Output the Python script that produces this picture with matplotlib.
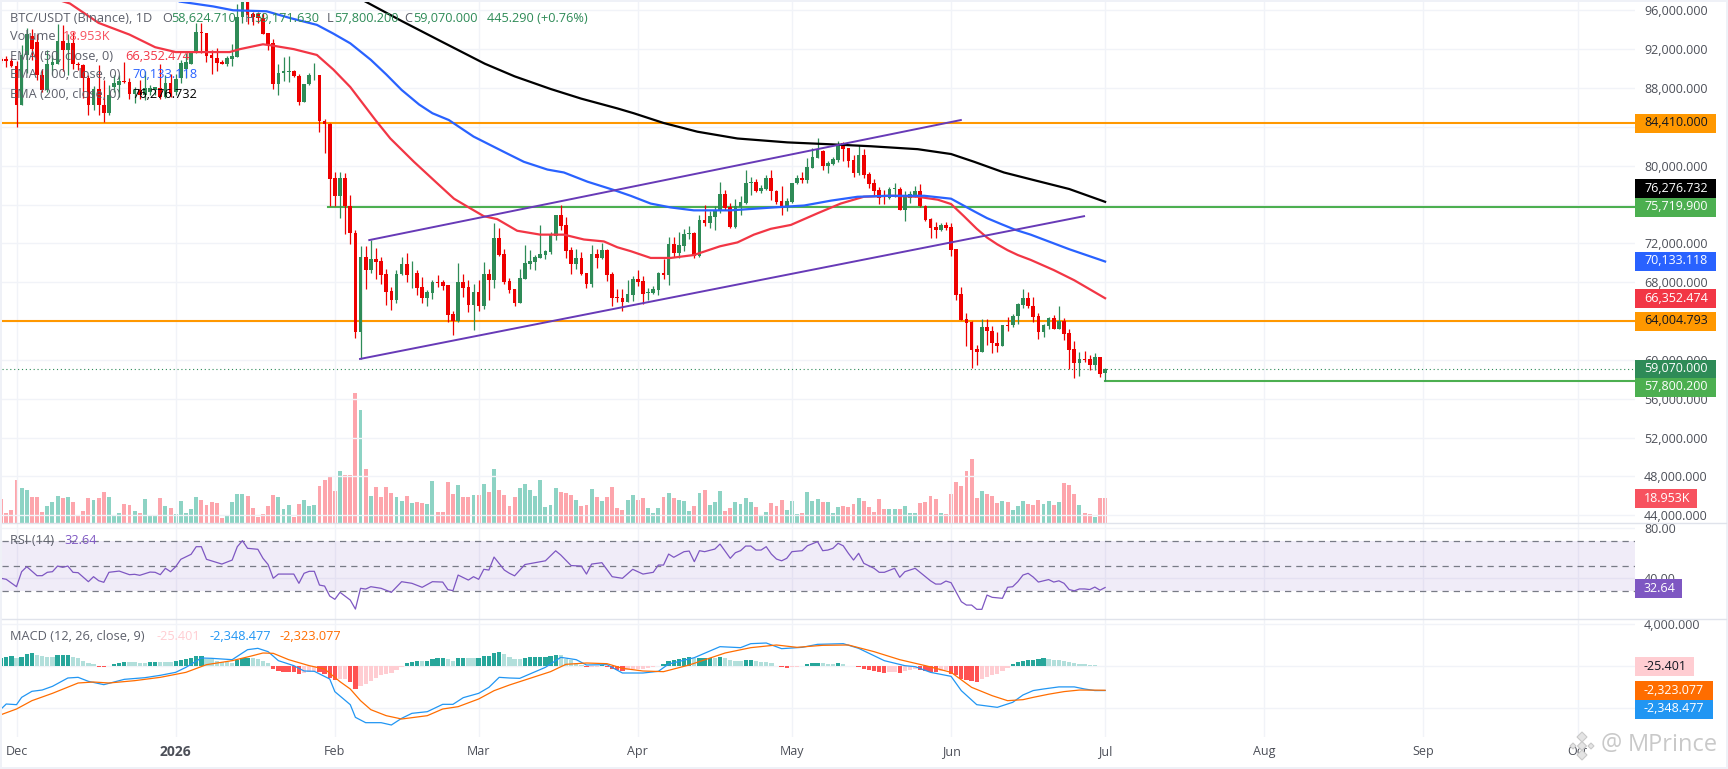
import numpy as np
import pandas as pd
import matplotlib
matplotlib.use("Agg")
import matplotlib.pyplot as plt
from matplotlib.patches import Rectangle, Polygon

W, H = 1728, 769
plt.rcParams['font.family'] = ['Open Sans', 'DejaVu Sans']

# ---------- data (prices in thousands of USDT, volume in thousands) ----------
base_date = pd.Timestamp('2025-12-01')
days = np.arange(-3, 213)

opens = [91.0,91.0,90.8,90.3,86.2,91.4,93.4,92.7,89.3,87.8,
90.4,90.5,92.8,91.9,92.6,90.5,90.4,89.0,86.3,87.9,
86.2,85.4,88.1,88.3,88.7,88.6,87.4,87.8,87.3,87.6,
87.8,88.0,87.1,88.5,87.6,89.0,90.0,90.5,91.6,93.8,
93.7,91.4,91.1,90.7,90.5,91.0,91.2,95.3,96.9,95.6,
95.6,95.2,93.7,92.6,88.4,89.5,89.6,89.7,89.2,86.6,
88.4,89.3,89.3,84.6,84.3,78.7,76.9,78.7,75.8,73.1,
62.9,70.6,69.3,70.4,70.2,68.8,67.1,66.2,68.8,69.9,
68.9,68.9,67.5,66.4,66.9,68.0,68.0,67.7,64.7,64.0,
68.0,67.5,65.7,67.0,65.6,68.8,68.2,72.6,70.9,68.1,
67.3,65.9,68.3,69.9,70.1,70.5,70.8,71.1,72.8,74.9,
73.9,71.3,69.9,70.5,68.9,67.8,70.9,70.5,71.3,68.8,
66.5,66.4,66.0,66.7,68.3,68.1,66.9,66.9,67.2,69.0,
68.7,71.9,71.0,71.7,73.0,73.1,70.7,74.4,74.1,74.7,
75.4,77.1,75.7,73.7,75.7,76.2,78.2,78.3,77.4,77.6,
78.7,77.4,76.4,75.7,76.3,78.2,78.7,78.5,79.8,80.8,
81.5,80.0,80.2,80.6,82.3,81.8,80.6,79.2,81.1,79.1,
78.2,77.5,77.0,76.7,77.6,77.6,75.4,76.7,76.9,77.4,
75.9,74.5,73.7,73.4,73.9,73.7,71.4,66.8,64.2,63.9,
61.1,60.8,63.4,63.0,61.7,61.4,63.6,63.6,64.5,65.7,
66.4,65.6,64.5,62.9,63.5,64.3,63.2,64.0,62.8,61.1,
59.7,60.1,60.1,59.5,60.3,58.62]

highs = [91.2,91.3,91.1,90.8,92.4,94.2,94.1,93.6,90.0,91.9,
91.4,94.6,94.5,93.6,93.8,90.7,90.5,89.3,88.2,90.4,
88.8,88.3,89.3,89.3,90.7,89.0,88.1,88.8,89.7,88.3,
88.1,90.5,89.3,89.4,89.4,90.9,91.6,91.7,94.7,94.7,
93.7,91.9,92.1,90.9,91.3,92.5,96.7,97.3,97.3,95.8,
95.8,95.7,93.7,93.0,90.5,91.2,91.3,89.9,89.4,88.4,
89.5,90.6,89.3,84.8,84.4,79.4,79.3,79.2,77.0,73.4,
71.7,71.7,72.3,71.5,70.6,69.4,67.5,69.3,70.6,71.0,
70.2,69.3,68.5,67.2,68.2,68.7,68.2,67.7,65.0,70.0,
68.8,68.2,67.8,68.2,70.1,69.4,74.1,73.6,71.4,68.4,
67.3,69.4,71.8,71.3,70.8,73.9,71.3,73.2,74.9,76.0,
74.7,71.6,71.4,71.1,68.9,71.8,71.4,72.0,71.4,69.1,
67.3,67.3,68.2,68.6,69.3,68.6,67.4,67.6,69.1,70.4,
72.7,72.7,73.2,73.5,73.8,73.2,74.9,76.0,75.3,75.9,
78.3,77.5,76.2,76.6,76.9,79.6,78.8,78.6,78.0,79.0,
79.6,77.5,77.9,76.7,78.2,79.0,79.3,80.8,81.8,82.8,
81.6,80.5,80.9,82.5,82.4,81.8,81.1,82.1,81.7,79.3,
78.6,77.8,77.5,77.8,78.2,77.8,77.4,77.4,77.9,78.1,
76.0,74.6,74.2,74.1,74.2,74.1,71.4,67.5,64.8,64.0,
61.5,64.2,64.2,63.5,62.9,63.6,64.4,64.7,65.9,67.3,
67.0,66.5,64.8,63.7,64.4,64.6,65.6,64.3,63.2,61.9,
60.8,60.9,60.5,60.7,60.3,59.17]

lows = [90.6,90.2,90.2,84.0,86.2,89.5,90.9,88.8,87.6,87.6,
89.3,90.5,89.7,89.3,90.0,89.9,87.0,85.2,85.7,85.2,
84.5,85.2,87.6,87.1,88.5,86.9,86.5,86.9,86.8,87.3,
87.3,86.9,87.0,87.1,87.3,88.5,89.0,90.5,91.6,91.6,
90.7,89.4,89.8,90.5,90.3,90.3,91.2,94.7,94.6,94.5,
94.7,93.6,91.9,87.9,87.3,88.7,88.6,89.1,86.2,86.6,
88.3,88.8,83.5,81.3,75.8,75.8,74.6,73.0,71.9,62.3,
60.1,67.3,68.9,68.3,67.8,65.7,65.1,65.9,68.7,68.0,
67.4,66.7,65.9,65.6,66.3,67.5,67.2,63.9,62.6,63.9,
66.5,64.9,63.1,65.0,65.2,66.2,67.4,70.7,67.8,66.9,
65.6,65.9,68.3,69.4,69.3,70.5,70.4,70.9,72.3,73.4,
70.5,68.8,69.4,68.7,67.4,67.5,69.5,70.4,68.1,65.6,
66.0,65.0,66.0,66.1,67.6,65.8,66.2,66.8,66.7,68.3,
67.7,70.6,70.5,71.2,72.4,70.5,70.6,73.8,73.6,73.4,
75.1,75.4,73.6,73.6,74.9,76.1,77.0,77.3,77.2,77.5,
76.5,76.1,74.9,75.3,76.2,78.1,78.2,78.2,79.8,80.8,
79.6,79.2,80.1,80.4,80.5,79.9,78.8,79.0,78.7,77.7,
76.9,76.1,76.1,76.6,76.8,75.4,74.3,76.2,76.8,75.7,
74.3,72.6,72.6,73.3,73.4,70.7,66.2,64.1,61.4,59.2,
59.5,60.8,61.5,60.7,60.8,61.4,63.0,63.4,63.7,65.3,
65.3,63.9,62.2,62.35,63.2,63.2,63.2,62.0,59.1,58.1,
58.3,59.8,59.0,59.0,58.2,57.8]

closes = [90.8,90.8,90.3,86.2,91.4,93.6,92.0,89.3,87.8,90.5,
90.7,92.8,91.9,92.6,90.5,90.4,89.0,86.3,87.9,86.2,
85.4,87.3,88.5,88.7,88.6,87.4,87.8,87.3,88.0,88.0,
88.1,87.1,88.5,87.4,88.9,90.6,90.7,91.7,93.8,93.7,
91.3,91.1,90.6,90.5,91.1,91.3,95.3,96.9,95.5,95.3,
95.2,93.6,92.4,88.4,89.5,89.7,89.7,89.2,86.6,88.4,
89.3,89.35,84.6,84.3,78.6,76.9,78.7,75.8,73.1,62.9,
70.6,69.3,70.4,70.1,68.7,67.0,66.2,68.8,69.9,68.7,
69.0,67.4,66.4,67.0,68.0,67.9,67.6,64.6,64.0,68.0,
67.4,65.7,67.0,65.6,68.8,68.2,72.6,70.8,68.0,67.2,
65.9,68.4,70.0,70.2,70.6,70.9,71.2,72.9,74.9,73.8,
71.2,69.9,70.5,68.8,67.8,70.9,70.5,71.3,68.7,66.4,
66.4,66.0,66.8,68.3,68.0,66.8,67.0,67.3,69.0,68.7,
71.9,71.0,71.8,73.0,73.1,70.7,74.4,74.1,74.8,75.4,
77.1,75.6,73.7,75.8,76.3,78.2,78.3,77.4,77.7,78.7,
77.4,76.3,75.7,76.4,78.2,78.7,78.5,79.9,80.9,81.6,
80.0,80.3,80.7,82.2,81.7,80.5,79.2,81.1,79.0,78.1,
77.4,76.7,76.8,77.6,77.7,75.4,76.9,77.1,77.4,75.8,
74.4,73.6,73.4,73.9,73.6,71.3,66.7,64.1,63.8,61.0,
60.8,63.4,63.0,61.7,61.4,63.6,63.5,64.5,65.8,66.4,
65.6,64.4,62.9,63.6,64.3,63.2,64.0,62.7,61.0,59.7,
60.1,60.0,59.5,60.3,58.5,59.07]

volumes = [18.2,7.6,9.9,32.6,26.6,25,19.7,19.7,8.3,12.9,
15.9,20.5,19,19.7,15.9,6.1,9.1,19,17.5,19,
23.5,19.7,5.3,7.6,14.4,13.7,9.1,7.6,18.2,5.3,
5.3,19,12.9,11.4,6.8,16.7,7.6,10.6,19.7,17.5,
13.7,15.9,15.2,3.8,6.1,15.9,22,22,20.5,11.4,
4.6,6.8,12.9,21.3,19.7,10.6,13.7,4.6,14.4,17.5,
12.9,13.7,28.1,32.6,34.9,24.3,39.5,36.4,36.4,98.7,
85.8,41,20.5,27.3,19.7,27.3,22.8,19.7,16.7,20.5,
15.2,15.9,15.2,14.4,31.9,8.3,8.3,31.1,22,28.8,
19.7,19.7,21.3,21.3,29.6,23.5,41,25,21.3,12.9,
19.7,26.7,29.9,25.3,20.7,32.9,12.4,13.9,26.8,23.8,
23,21.5,17.7,13.2,13.9,26.1,20,17,20,27.6,
11.6,10.1,17.7,21.5,17.7,19.2,11.6,7.8,11.6,20,
23,19.2,17.7,17,9.4,13.2,23,25.3,13.9,16.2,
24.5,9.4,11.6,16.2,14.7,19.2,16.2,12.4,6.3,8.6,
15.4,13.2,17.7,10.1,17,7.1,7.8,23.8,17,18.5,
16.2,16.2,7.8,12.4,13.2,12.4,14.7,19.2,17,12.4,
8.6,18.5,10.9,10.9,10.9,10.9,13.2,7.8,7.8,15.4,
16.2,20.7,18.5,7.8,7.1,22.3,31.4,28.3,39.7,48.8,
19.2,24.5,22.3,20.7,15.4,17,16.2,10.1,13.2,17,
15,14,18,15,17,14,16,31,29,22,
14,8,7,5,19,18.953]

macd_hist = [766,830,957,734,830,1148,1244,1021,925,861,
850,1053,1060,1065,861,798,510,287,191,-96,
-110,-32,191,287,383,380,375,319,287,383,
390,383,380,375,479,574,670,766,957,960,
670,665,479,383,380,287,574,766,770,765,
670,479,287,-287,-479,-574,-580,-585,-766,-670,
-574,-479,-606,-766,-1148,-1308,-1250,-1200,-1570,-2200,
-1882,-1723,-1467,-1148,-861,-766,-670,-383,-96,287,
415,479,475,480,670,766,770,670,479,766,
770,765,760,768,925,957,1244,1340,1148,860,
700,680,766,861,865,870,875,957,1053,1050,
670,574,287,96,-96,-64,-60,50,-96,-287,
-383,-479,-383,-287,-280,-270,-192,-96,-30,191,
479,574,670,766,861,760,770,775,780,770,
861,766,574,479,470,574,580,479,383,380,
287,-30,-96,-192,-96,-64,-30,191,287,290,
287,191,185,287,191,-32,-40,-64,-287,-383,
-479,-574,-670,-574,-570,-670,-479,-383,-287,-383,
-479,-574,-580,-479,-383,-766,-861,-1244,-1340,-1435,
-1531,-1244,-1053,-861,-766,-479,-192,191,383,480,
600,620,700,720,640,620,560,520,420,300,
200,160,120,60,-20,-25.4]

ema50_days = [8,10.4,16,22,27,31,36,41.5,43.5,48,49.5,54,58.5,61.7,65,69.9,72.8,77.4,81.9,85.2,88.4,91,93.6,97.5,102,106.6,110.5,114.4,117,119.6,123.5,127.4,131.9,137,140.4,143.6,146.9,150.8,156,160.5,165,170.3,175.5,179.4,182,184.5,187,189,191,193,195,197.5,202,206,212]
ema50_vals = [97.1,96.7,94.7,93.5,92.2,91.7,91.7,91.7,92.0,92.5,92.4,92.0,91.4,89.9,88.1,84.7,82.8,80.4,78.2,76.6,75.6,74.8,74.5,73.3,72.9,72.9,72.4,72.2,71.6,71.2,70.5,70.5,70.8,71.7,72.1,72.9,73.5,73.9,75.1,76.1,76.8,76.9,76.8,76.5,76.05,74.8,73.5,72.6,71.9,71.3,70.8,70.3,69.25,68.2,66.352]
ema100_days = [31.8,38.3,42.2,48.7,53.3,58.5,61.7,65,69,72,75,78.4,81,84.2,89,95,98.8,103.4,106.6,111.2,116.3,119.6,123.5,127.4,131.9,139,147.4,153.4,158.6,163.8,169.6,176.8,182,186.5,189,191.7,194.5,197.5,201,205,212]
ema100_vals = [96.9,96.4,96.0,95.9,95.2,94.5,93.6,92.6,90.9,89.4,87.8,86.3,85.4,84.7,83.0,81.4,80.4,79.6,79.3,78.35,77.5,76.9,76.1,75.7,75.4,75.4,75.7,75.9,76.4,76.8,76.9,76.9,76.6,75.3,74.6,74.0,73.4,72.9,72.2,71.4,70.133]
ema200_days = [67.6,75,82.7,91.2,97,104,110,117,120.2,126,132.6,140.4,150.1,158.6,166.4,175.5,182,186.5,192.3,197.5,205,212]
ema200_vals = [97.0,94.9,92.8,90.5,89.2,87.9,86.9,85.9,85.4,84.4,83.5,82.8,82.4,82.2,82.0,81.7,81.2,80.4,79.3,78.6,77.6,76.277]

upper_channel_days = [68.7, 183.9]
upper_channel_vals = [72.34, 84.7]
lower_channel_days = [66.9, 207.9]
lower_channel_vals = [60.1, 74.8]
level_orange = [84.41, 64.004793]
level_green_a = 75.7199
level_green_a_start = 60.7
level_green_b = 57.8002
level_green_b_start = 212
last_close = 59.07

rsi_days = [-3,-2,0,1,2,4,5,6,7,8,9,10,11,12,14,15,16,17,18,20,22,23,24,26,27,28,29,30,31,32,34,35,36,37,40,42,43,44,45,47,48,49,50,51,54,55,56,57,58,59,60,61,62,63,65,66,67,68,69,71,73,75,77,79,81,83,84,85,86,88,89,90,91,92,93,95,96,97,99,103,105,106,108,110,111,112,114,116,118,120,122,124,125,126,127,128,130,131,132,133,134,136,137,139,140,141,142,143,144,145,146,147,148,149,150,151,153,154,156,157,158,159,160,161,162,163,164,165,167,168,169,171,172,173,175,178,179,180,181,182,184,185,186,187,188,189,190,192,193,194,195,196,197,198,199,200,201,202,203,204,205,206,207,208,209,210,211,212]
rsi_vals = [40.0,39.2,33.3,45.3,49.3,42.1,42.1,44.8,45.3,49.8,48.8,49.8,44.8,44.5,37.3,41.3,38.1,36.8,44.8,45.8,42.9,43.2,42.4,45.0,44.8,42.9,48.0,45.3,49.3,55.2,59.2,65.3,65.3,55.2,51.4,54.6,65.3,70.1,64.0,63.2,56.0,51.0,40.0,43.4,43.4,36.0,44.0,45.6,45.6,34.6,33.8,25.8,23.2,28.8,22.6,15.4,32.0,31.4,33.3,32.0,28.8,37.3,36.0,32.8,37.3,37.0,31.0,30.1,42.6,38.6,41.3,39.2,47.2,46.6,57.0,46.6,44.0,42.0,51.0,54.0,62.0,58.6,50.2,49.8,43.4,51.4,52.5,41.3,40.0,47.2,43.4,44.8,50.6,50.6,59.4,56.8,61.3,61.8,53.3,62.1,61.3,63.4,67.4,56.0,60.5,62.1,65.8,65.8,62.6,62.6,65.3,59.4,55.4,54.0,56.0,61.3,62.1,66.0,69.3,62.1,62.6,64.0,68.0,66.0,60.0,54.6,60.0,52.0,48.0,44.8,44.8,48.0,40.8,45.3,48.0,38.0,35.4,35.4,37.8,36.5,21.3,18.6,18.6,15.2,15.2,26.6,24.8,24.0,32.8,33.3,37.3,42.6,44.0,41.0,37.0,38.0,39.0,37.0,38.0,36.0,31.0,30.0,31.5,31.5,31.0,33.0,30.5,32.64]

macd_days = [-3,-2,0,1,3,5,7,10,12,14,17,21,25,28,31,33,36,38,42,45,47,49,51,54,56,58,61,62,65,66,68,71,73,75,77,80,83,85,87,90,92,94,96,98,103,106,109,111,115,118,122,125,127,132,137,141,143,146,149,153,156,161,164,169,173,175,178,182,184,187,191,194,196,198,200,203,206,208,210,212]
macd_vals = [-4115,-3637,-3700,-3000,-2424,-2297,-1946,-1148,-1085,-1467,-1786,-1276,-1117,-893,-606,-128,766,734,606,1563,1691,1372,510,32,-478,-510,-1244,-2456,-3700,-4913,-5423,-5423,-5646,-5008,-4530,-4370,-3668,-3668,-3030,-2616,-2042,-1085,-1148,-1180,-128,829,606,96,128,-670,-670,-510,191,798,1850,1755,2137,2201,1659,1786,2073,2137,1691,510,32,-64,-606,-989,-2361,-3700,-3956,-3477,-2775,-2350,-2200,-2000,-2000,-2200,-2350,-2348.477]
signal_days = [-3,0,3,7,12,15,18,23,28,33,37,42,46,48,50,53,57,60,63,65,67,69,72,75,77,80,83,86,90,93,96,100,104,107,111,115,118,122,126,131,138,143,148,152,157,162,167,172,177,182,186,190,193,196,198,201,204,207,210,212]
signal_vals = [-4657,-4115,-3318,-2616,-1627,-1531,-1627,-1404,-1085,-606,128,510,989,1244,1212,606,32,-287,-1499,-2201,-3318,-4179,-4753,-5072,-4945,-4753,-4115,-3892,-3158,-2361,-1818,-1180,-542,160,287,223,-223,-478,-542,96,1244,1755,2010,1786,1978,2010,1372,606,32,-606,-2042,-2839,-3318,-3222,-3000,-2700,-2450,-2300,-2310,-2323.077]

month_dates = ['2025-12-01','2026-01-01','2026-02-01','2026-03-01','2026-04-01','2026-05-01','2026-06-01','2026-07-01','2026-08-01','2026-09-01','2026-10-01']
month_labels = ['Dec','2026','Feb','Mar','Apr','May','Jun','Jul','Aug','Sep','Oct']
price_ticks = [96,92,88,84,80,76,72,68,64,60,56,52,48,44]
price_ticks_hidden = [84,76,64]
rsi_ticks = [80, 40]
macd_ticks = [4000, 0, -4000]
macd_ticks_hidden = [0, -4000]

# ---------- colours ----------
UP, DOWN = '#2e8b57', '#ee0000'
GRID = '#f1f3f8'
LABEL = '#4c4f58'
FRAME = '#eff1f7'
SEP = '#e0e3eb'
PURPLE = '#7e57c2'

opens, highs, lows, closes = map(np.array, (opens, highs, lows, closes))
up = closes >= opens

# ---------- layout helpers ----------
def rect(x0, y0, x1, y1):
    return [x0 / W, 1 - y1 / H, (x1 - x0) / W, (y1 - y0) / H]

PX_PER_DAY = 5.135
DEC1_PX = 16.5
XL = (2 - DEC1_PX) / PX_PER_DAY
XR = (1635 - DEC1_PX) / PX_PER_DAY
month_pos = [(pd.Timestamp(d) - base_date).days for d in month_dates]

fig = plt.figure(figsize=(W / 100, H / 100), dpi=100, facecolor=FRAME)
bg = fig.add_axes(rect(2, 2, 1726, 767), zorder=0, facecolor='white')
bg.set_xticks([]); bg.set_yticks([])
for s in bg.spines.values():
    s.set_visible(False)

def pane(r, z=2):
    a = fig.add_axes(r, zorder=z)
    a.patch.set_alpha(0)
    for s in a.spines.values():
        s.set_visible(False)
    a.set_xlim(XL, XR)
    a.set_xticks(month_pos)
    a.grid(True, color=GRID, lw=1.0)
    a.set_axisbelow(True)
    a.yaxis.tick_right()
    a.tick_params(axis='both', length=0, labelsize=9, labelcolor=LABEL)
    a.tick_params(axis='y', pad=6.5)
    a.tick_params(axis='x', labelbottom=False)
    return a

# ---------- main price pane ----------
MAIN = rect(2, 2, 1635, 523.3)
vol_ax = fig.add_axes(MAIN, zorder=1)
vol_ax.patch.set_alpha(0)
vol_ax.axis('off')
vol_ax.set_xlim(XL, XR)
vol_ax.set_ylim(0, 521.3 * 0.76)
vol_up = up.copy()
vol_up[-1] = False
vol_ax.bar(days, volumes, width=0.76,
           color=['#8dd3c4' if u else '#fda5ac' for u in vol_up], linewidth=0)

ax = pane(MAIN)
ax.set_ylim(43.176, 96.855)
ax.set_yticks(price_ticks)
ax.set_yticklabels(['' if t in price_ticks_hidden else f'{t * 1000:,.3f}' for t in price_ticks])

for y in level_orange:
    ax.axhline(y, color='#ff9800', lw=1.5, zorder=2)
ax.plot([level_green_a_start, XR], [level_green_a] * 2, color='#4caf50', lw=1.5, zorder=2)
ax.plot([level_green_b_start, XR], [level_green_b] * 2, color='#4caf50', lw=1.5, zorder=2)
ax.axhline(last_close, color=UP, lw=0.8, ls=(0, (1, 2.5)), zorder=2)

ax.vlines(days, lows, highs, colors=[UP if u else DOWN for u in up], lw=0.9, zorder=3)
ax.bar(days, np.maximum(np.abs(closes - opens), 0.06), bottom=np.minimum(opens, closes), width=0.72,
       color=[UP if u else DOWN for u in up], linewidth=0, zorder=4)

ax.plot(ema50_days, ema50_vals, color='#f23645', lw=1.6, zorder=5, solid_joinstyle='round')
ax.plot(ema100_days, ema100_vals, color='#2962ff', lw=1.6, zorder=5, solid_joinstyle='round')
ax.plot(ema200_days, ema200_vals, color='#000000', lw=1.6, zorder=5, solid_joinstyle='round')
ax.plot(upper_channel_days, upper_channel_vals, color='#673ab7', lw=1.4, zorder=6)
ax.plot(lower_channel_days, lower_channel_vals, color='#673ab7', lw=1.4, zorder=6)

# ---------- RSI pane ----------
rsi = pane(rect(2, 523.3, 1635, 618.7))
rsi.set_ylim(7.7, 84.0)
rsi.set_yticks(rsi_ticks)
rsi.set_yticklabels([f'{t:.2f}' for t in rsi_ticks])
rsi.axhspan(30, 70, color=PURPLE, alpha=0.11, lw=0, zorder=1)
for lvl in (70, 50, 30):
    rsi.axhline(lvl, color='#787b86', lw=0.9, ls=(0, (5, 4)), zorder=2)
rsi.plot(rsi_days, rsi_vals, color=PURPLE, lw=0.9, zorder=3)

# ---------- MACD pane ----------
macd = pane(rect(2, 618.7, 1635, 737))
macd.set_ylim(-6794, 4526)
macd.set_yticks(macd_ticks)
macd.set_yticklabels(['' if t in macd_ticks_hidden else f'{t:,.3f}' for t in macd_ticks])
hist = np.array(macd_hist)
prev = np.r_[hist[0] - 1, hist[:-1]]
hist_col = np.where(hist >= 0,
                    np.where(hist >= prev, '#26a69a', '#b2dfdb'),
                    np.where(hist <= prev, '#ff5252', '#ffcdd2'))
macd.bar(days, hist, width=0.84, color=hist_col, linewidth=0, zorder=2)
macd.plot(macd_days, macd_vals, color='#2196f3', lw=0.9, zorder=3)
macd.plot(signal_days, signal_vals, color='#ff6d00', lw=0.9, zorder=4)
macd.tick_params(axis='x', labelbottom=True, pad=5.5)
macd.set_xticklabels(month_labels)
for lab in macd.get_xticklabels():
    if lab.get_text() == '2026':
        lab.set_fontweight('bold')
        lab.set_fontsize(10)

# ---------- overlay: separators, tags, legends, watermark ----------
top = fig.add_axes([0, 0, 1, 1], zorder=10)
top.patch.set_alpha(0)
top.axis('off')
top.set_xlim(0, W)
top.set_ylim(H, 0)

for y in (523.3, 618.7):
    top.plot([2, 1726], [y, y], color=SEP, lw=1.0)

tags = [
    ('84,410.000', 123, 1716, '#ff9800', '#131722'),
    ('76,276.732', 188, 1716, '#000000', '#ffffff'),
    ('75,719.900', 207, 1716, '#4caf50', '#ffffff'),
    ('70,133.118', 261, 1716, '#2962ff', '#ffffff'),
    ('66,352.474', 298, 1716, '#f23645', '#ffffff'),
    ('64,004.793', 321, 1716, '#ff9800', '#131722'),
    ('59,070.000', 369, 1716, UP, '#ffffff'),
    ('57,800.200', 387, 1716, '#4caf50', '#ffffff'),
    ('18.953K', 498, 1697, '#f7525f', '#ffffff'),
    ('32.64', 588, 1682, PURPLE, '#ffffff'),
    ('-25.401', 666, 1694, '#ffcdd2', '#131722'),
    ('-2,323.077', 690, 1713, '#ff6d00', '#ffffff'),
    ('-2,348.477', 709, 1713, '#2196f3', '#ffffff'),
]
for txt, yc, xr, fc, tc in tags:
    top.add_patch(Rectangle((1635, yc - 9.5), xr - 1635, 19, fc=fc, ec='none'))
    top.text(1644, yc, txt, color=tc, fontsize=9, va='center', ha='left')

def legend(x, y, s, c='#5d606b', **kw):
    top.text(x, y, s, color=c, fontsize=9.2, va='center', ha='left', **kw)

legend(10, 18, 'BTC/USDT (Binance), 1D')
legend(162, 18, 'O')
legend(171, 18, '58,624.710', UP)
legend(245, 18, 'H')
legend(254, 18, '59,171.630', UP)
legend(327, 18, 'L')
legend(334, 18, '57,800.200', UP)
legend(404, 18, 'C')
legend(413, 18, '59,070.000', UP)
legend(487, 18, '445.290 (+0.76%)', UP)
legend(10, 37, 'Volume')
legend(63, 37, '18.953K', '#f7525f')
legend(10, 56, 'EMA (50, close, 0)')
legend(125, 56, '66,352.474', '#f23645')
legend(10, 75, 'EMA (100, close, 0)')
legend(132, 75, '70,133.118', '#2962ff')
legend(10, 94, 'EMA (200, close, 0)')
legend(132, 94, '76,276.732', '#000000')
legend(10, 541, 'RSI (14)')
legend(64, 541, '32.64', PURPLE)
legend(10, 636, 'MACD (12, 26, close, 9)')
legend(156, 636, '-25.401', '#ffcdd2')
legend(209, 636, '-2,348.477', '#2196f3')
legend(279, 636, '-2,323.077', '#ff6d00')

# watermark
wm = '#c9c9c9'
cx, cy = 1582, 746
for dx, dy, r in [(0, 0, 4.5), (-9, 0, 3), (9, 0, 3), (0, -9, 5), (0, 9, 5)]:
    top.add_patch(Polygon([(cx + dx - r, cy + dy), (cx + dx, cy + dy - r), (cx + dx + r, cy + dy), (cx + dx, cy + dy + r)],
                          closed=True, fc='#e4e4e4', ec=wm, lw=0.8))
top.text(1601, 744, '@', color=wm, fontsize=17, va='center', ha='left')
top.text(1628, 745, 'MPrince', color=wm, fontsize=17, va='center', ha='left')

fig.savefig('out.png', dpi=100, facecolor=FRAME)
